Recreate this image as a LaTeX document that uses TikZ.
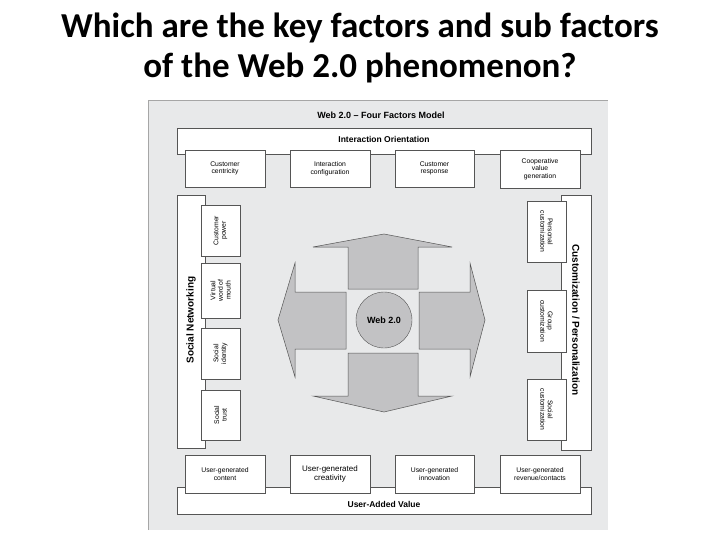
\documentclass[tikz,border=0pt]{standalone}
\usepackage{fontspec}
\setmainfont{Liberation Sans}
\newfontfamily\titlefont{Carlito}
\definecolor{panelgray}{HTML}{E8E9EA}
\definecolor{arrowgray}{HTML}{C2C2C4}
\definecolor{edgegray}{HTML}{555555}

\begin{document}
\begin{tikzpicture}[x=1pt,y=-1pt,
    bar/.style={draw=edgegray, fill=white, line width=0.6pt, inner sep=0pt, font=\bfseries\fontsize{8}{9}\selectfont},
    sub/.style={draw=edgegray, fill=white, line width=0.6pt, inner sep=0pt, align=center, font=\fontsize{6.8}{7.6}\selectfont},
    bigarrow/.style={draw=edgegray, fill=arrowgray, line width=0.5pt}]
    \useasboundingbox (0,0) rectangle (720,540);
    \node[font=\titlefont\bfseries\fontsize{35}{40}\selectfont, align=center] (title) at (360,48)
        {Which are the key factors and sub factors\\of the Web 2.0 phenomenon?};
    \fill[panelgray] (148,100) rectangle (608,530);
    \draw[gray!70] (148,530) -- (148,100) -- (608,100);
    \node[font=\bfseries\fontsize{9}{10}\selectfont] (model) at (381,115) {Web 2.0 -- Four Factors Model};

    % top and bottom bars
    \node[bar, minimum width=414pt, minimum height=26pt, anchor=north west] (inter) at (177,128) {};
    \node[font=\bfseries\fontsize{8.5}{9}\selectfont] (intertext) at (384,139) {Interaction Orientation};
    \node[sub, minimum width=80pt, minimum height=37pt] (cc) at (225,168.5) {Customer\\centricity};
    \node[sub, minimum width=80pt, minimum height=37pt] (ic) at (330,168.5) {Interaction\\configuration};
    \node[sub, minimum width=79pt, minimum height=37pt] (cr) at (434.5,168.5) {Customer\\response};
    \node[sub, minimum width=80pt, minimum height=38pt] (cv) at (540,169) {Cooperative\\value\\generation};

    \node[bar, minimum width=414pt, minimum height=27pt, anchor=north west] (uav) at (177,487) {};
    \node[font=\bfseries\fontsize{8.5}{9}\selectfont] (uavtext) at (384,504) {User-Added Value};
    \node[sub, minimum width=80pt, minimum height=38pt] (ugc) at (225,474) {User-generated\\content};
    \node[sub, minimum width=80pt, minimum height=38pt, font=\fontsize{8}{9.5}\selectfont] (ugcr) at (330,474) {User-generated\\creativity};
    \node[sub, minimum width=79pt, minimum height=38pt] (ugi) at (434.5,474) {User-generated\\innovation};
    \node[sub, minimum width=80pt, minimum height=38pt] (ugr) at (540,474) {User-generated\\revenue/contacts};

    % side bars
    \node[bar, minimum width=28pt, minimum height=253pt, anchor=north west] (social) at (177,195) {};
    \node[rotate=90, font=\bfseries\fontsize{10}{11}\selectfont] (socialtext) at (191,320) {Social Networking};
    \node[sub, rotate=90, minimum width=51pt, minimum height=39pt] (cp) at (220.5,230.5) {Customer\\power};
    \node[sub, rotate=90, minimum width=55pt, minimum height=39pt] (vw) at (220.5,290.5) {Virtual\\word of\\mouth};
    \node[sub, rotate=90, minimum width=51pt, minimum height=39pt] (si) at (220.5,353.5) {Social\\identity};
    \node[sub, rotate=90, minimum width=50pt, minimum height=39pt] (st) at (220.5,415) {Social\\trust};

    \node[bar, minimum width=30pt, minimum height=255pt, anchor=north west] (custom) at (561,195) {};
    \node[rotate=-90, font=\bfseries\fontsize{10}{11}\selectfont] (customtext) at (576,320) {Customization / Personalization};
    \node[sub, rotate=-90, minimum width=61pt, minimum height=39pt] (pc) at (546.5,231.5) {Personal\\customization};
    \node[sub, rotate=-90, minimum width=62pt, minimum height=39pt] (gc) at (546.5,321) {Group\\customization};
    \node[sub, rotate=-90, minimum width=61pt, minimum height=39pt] (sc) at (546.5,409.5) {Social\\customization};

    % four arrows round the core
    \draw[bigarrow] (348,289) -- (348,247) -- (313,247) -- (384,234) -- (452,247) -- (418,247) -- (418,289) -- cycle;
    \draw[bigarrow] (348,353) -- (348,396) -- (313,396) -- (384,412) -- (452,396) -- (418,396) -- (418,353) -- cycle;
    \draw[bigarrow] (346,292) -- (295,292) -- (295,263) -- (278,320) -- (295,377) -- (295,349) -- (346,349) -- cycle;
    \draw[bigarrow] (419,292) -- (470,292) -- (470,263) -- (485,320) -- (470,377) -- (470,349) -- (419,349) -- cycle;
    \node[circle, draw=edgegray, fill=arrowgray, minimum size=56pt, inner sep=0pt,
        font=\bfseries\fontsize{9}{10}\selectfont] (core) at (384,320) {Web 2.0};
\end{tikzpicture}
\end{document}
